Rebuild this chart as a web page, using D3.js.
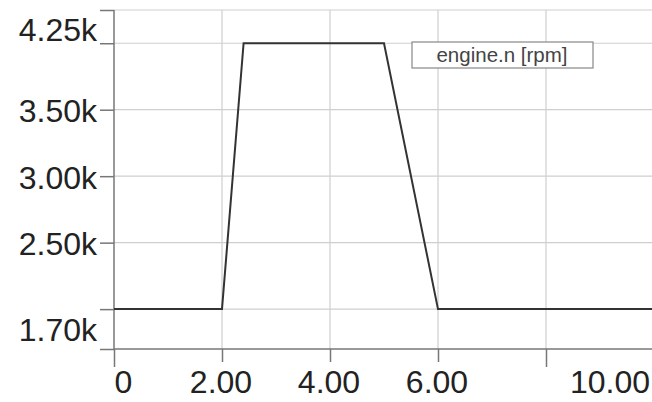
<!DOCTYPE html>
<html>
<head>
<meta charset="utf-8">
<script src="https://cdn.jsdelivr.net/npm/d3@7"></script>
<style>
  body { margin: 0; background: #fff; }
  svg { display: block; }
  text { font-family: "Liberation Sans", Arial, sans-serif; }
</style>
</head>
<body>
<script>
// engine speed trace
const timeS = [0, 2, 2.4, 5, 6, 10];
const engineRpm = [2000, 2000, 4000, 4000, 2000, 2000];
const yGridVals = [2000, 2500, 3000, 3500, 4000];
const yLabelVals = [2500, 3000, 3500];
const xTickVals = [0, 2, 4, 6, 8];
const yMin = 1700, yMax = 4250;
const xMin = 0, xMax = 10;
const seriesName = 'engine.n [rpm]';

const W = 652, H = 402;
const margin = {top: 10, left: 114, bottom: 53, right: -2};
const width = W - margin.left - margin.right,
      height = H - margin.top - margin.bottom;

const svg = d3.select('body').append('svg')
    .attr('width', W)
    .attr('height', H);

const g = svg.append('g')
    .attr('transform', `translate(${margin.left},${margin.top})`);

const x = d3.scaleLinear().domain([xMin, xMax]).range([0, width]);
const y = d3.scaleLinear().domain([yMin, yMax]).range([height, 0]);

// grid
g.append('g')
    .selectAll('line.hg')
    .data(yGridVals.concat([yMax]))
    .enter().append('line')
    .attr('x1', 0).attr('x2', width)
    .attr('y1', d => y(d)).attr('y2', d => y(d))
    .attr('stroke', '#cfcfcf').attr('stroke-width', 1.2);

g.append('g')
    .selectAll('line.vg')
    .data(xTickVals.filter(d => d > 0))
    .enter().append('line')
    .attr('x1', d => x(d)).attr('x2', d => x(d))
    .attr('y1', 0).attr('y2', height)
    .attr('stroke', '#cfcfcf').attr('stroke-width', 1.2);

// y axis
const yAxis = d3.axisLeft(y)
    .tickValues(yGridVals.concat([yMin, yMax]))
    .tickSize(14)
    .tickPadding(3)
    .tickFormat(d => yLabelVals.includes(d) ? (d / 1000).toFixed(2) + 'k' : '');

const ya = g.append('g').call(yAxis);
ya.select('.domain').remove();
ya.selectAll('line').attr('stroke', '#777').attr('stroke-width', 1.5);
ya.selectAll('text').attr('font-size', 32).attr('fill', '#222').attr('dy', '0.37em');

// min / max labels of the y range
g.append('text')
    .attr('x', -17).attr('y', 31)
    .attr('text-anchor', 'end')
    .attr('font-size', 32).attr('fill', '#222')
    .text((yMax / 1000).toFixed(2) + 'k');

g.append('text')
    .attr('x', -17).attr('y', height - 8)
    .attr('text-anchor', 'end')
    .attr('font-size', 32).attr('fill', '#222')
    .text((yMin / 1000).toFixed(2) + 'k');

// x axis
const xAxis = d3.axisBottom(x)
    .tickValues(xTickVals)
    .tickSize(13)
    .tickFormat(d => d === 0 ? '0' : (d === 8 ? '' : d.toFixed(2)));

const xa = g.append('g')
    .attr('transform', `translate(0,${height})`)
    .call(xAxis);
xa.select('.domain').remove();
xa.selectAll('line').attr('stroke', '#777').attr('stroke-width', 1.5)
    .attr('y2', d => (d === 0 || d === 8) ? 18 : 13);
xa.selectAll('text')
    .attr('font-size', 32).attr('fill', '#222')
    .attr('y', 44).attr('dy', 0)
    .attr('text-anchor', d => d === 0 ? 'start' : 'middle')
    .attr('dx', d => d === 0 ? 0 : -1.5);

g.append('text')
    .attr('x', x(xMax) - 4).attr('y', height + 44)
    .attr('text-anchor', 'end')
    .attr('font-size', 32).attr('fill', '#222')
    .text(xMax.toFixed(2));

// axis lines
g.append('line')
    .attr('x1', 0).attr('x2', 0).attr('y1', 0).attr('y2', height)
    .attr('stroke', '#777').attr('stroke-width', 1.5);
g.append('line')
    .attr('x1', 0).attr('x2', width).attr('y1', height).attr('y2', height)
    .attr('stroke', '#777').attr('stroke-width', 1.5);

// the trace
const pts = timeS.map((t, i) => [t, engineRpm[i]]);
g.append('path')
    .datum(pts)
    .attr('fill', 'none')
    .attr('stroke', '#333')
    .attr('stroke-width', 2)
    .attr('d', d3.line().x(d => x(d[0])).y(d => y(d[1])));

// legend box
const lg = g.append('g').attr('transform', `translate(${412 - margin.left},${42 - margin.top})`);
lg.append('rect')
    .attr('width', 181).attr('height', 26)
    .attr('fill', '#fff')
    .attr('stroke', '#888').attr('stroke-width', 1.2);
lg.append('text')
    .attr('x', 90).attr('y', 20)
    .attr('text-anchor', 'middle')
    .attr('font-size', 20.5).attr('fill', '#444')
    .text(seriesName);
</script>
</body>
</html>
